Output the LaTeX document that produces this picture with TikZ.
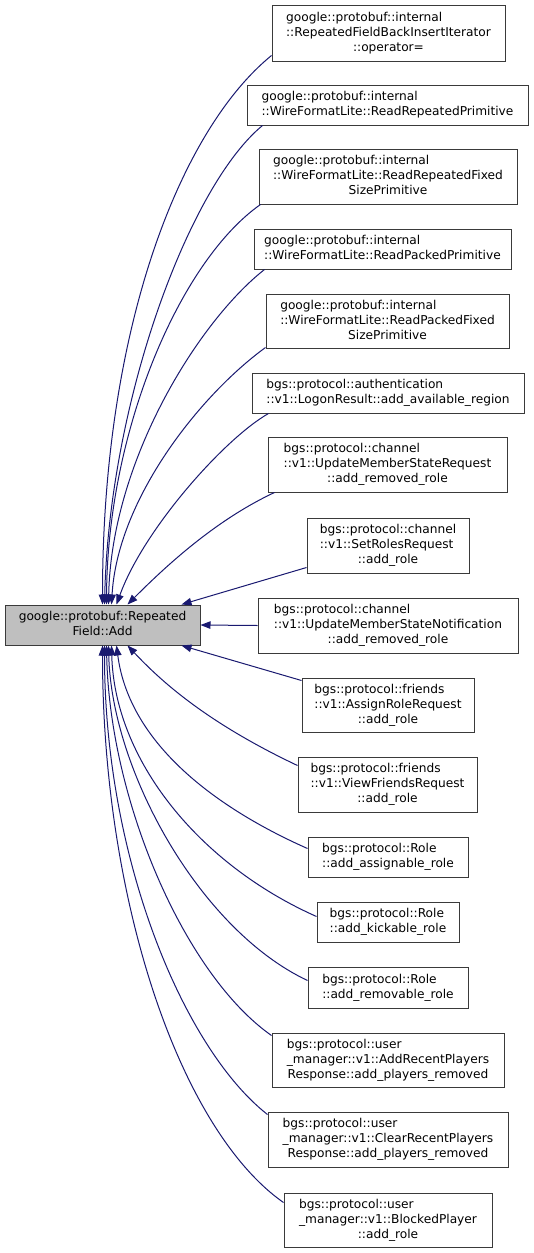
\documentclass[tikz,border=0pt]{standalone}
\usepackage{fontspec}
\setmainfont{DejaVu Sans}
\usetikzlibrary{arrows.meta}
\definecolor{edgeblue}{HTML}{191970}
\definecolor{boxline}{HTML}{3a3a3a}
\definecolor{mainfill}{HTML}{BFBFBF}
\newcommand\LblThree[3]{\begin{tabular}{@{}l@{}}#1\\#2\\\multicolumn{1}{@{}c@{}}{#3}\end{tabular}}
\newcommand\LblTwo[2]{\begin{tabular}{@{}l@{}}#1\\\multicolumn{1}{@{}c@{}}{#2}\end{tabular}}
\newcommand\Bx[6]{%
  \pgfmathsetmacro\bxw{#4-#2}%
  \pgfmathsetmacro\bxh{#5-#3}%
  \node[box,minimum width=\bxw pt,minimum height=\bxh pt] (#1) at ({(#2+#4)/2},{(#3+#5)/2}) {#6};}
\begin{document}
\begin{tikzpicture}[x=1pt,y=-1pt,
  box/.style={draw=boxline,line width=1pt,fill=white,inner sep=0pt,
    font=\fontsize{12.2}{15}\selectfont},
  link/.style={draw=edgeblue,line width=1pt,-{Triangle[length=10pt,width=7.5pt]}}]
\useasboundingbox[fill=white] (0,0) rectangle (533,1253);
\node[box,fill=mainfill,minimum width=195pt,minimum height=40pt] (m) at (102.5,625) {\LblTwo{google::protobuf::Repeated}{Field::Add}};
\Bx{n1}{272}{5}{505}{61}{\LblThree{google::protobuf::internal}{::RepeatedFieldBackInsertIterator}{::operator=}}
\Bx{n2}{247}{85}{528}{125}{\LblTwo{google::protobuf::internal}{::WireFormatLite::ReadRepeatedPrimitive}}
\Bx{n3}{259}{149}{517}{204}{\LblThree{google::protobuf::internal}{::WireFormatLite::ReadRepeatedFixed}{SizePrimitive}}
\Bx{n4}{254}{229}{511}{269}{\LblTwo{google::protobuf::internal}{::WireFormatLite::ReadPackedPrimitive}}
\Bx{n5}{266}{294}{509}{348}{\LblThree{google::protobuf::internal}{::WireFormatLite::ReadPackedFixed}{SizePrimitive}}
\Bx{n6}{252}{373}{524}{413}{\LblTwo{bgs::protocol::authentication}{::v1::LogonResult::add\_available\_region}}
\Bx{n7}{268}{437}{507}{492}{\LblThree{bgs::protocol::channel}{::v1::UpdateMemberStateRequest}{::add\_removed\_role}}
\Bx{n8}{307}{518}{469}{573}{\LblThree{bgs::protocol::channel}{::v1::SetRolesRequest}{::add\_role}}
\Bx{n9}{258}{598}{518}{653}{\LblThree{bgs::protocol::channel}{::v1::UpdateMemberStateNotification}{::add\_removed\_role}}
\Bx{n10}{302}{678}{474}{732}{\LblThree{bgs::protocol::friends}{::v1::AssignRoleRequest}{::add\_role}}
\Bx{n11}{298}{757}{477}{812}{\LblThree{bgs::protocol::friends}{::v1::ViewFriendsRequest}{::add\_role}}
\Bx{n12}{308}{837}{468}{877}{\LblTwo{bgs::protocol::Role}{::add\_assignable\_role}}
\Bx{n13}{317}{902}{459}{942}{\LblTwo{bgs::protocol::Role}{::add\_kickable\_role}}
\Bx{n14}{308}{967}{468}{1008}{\LblTwo{bgs::protocol::Role}{::add\_removable\_role}}
\Bx{n15}{272}{1033}{504}{1087}{\LblThree{bgs::protocol::user}{\_manager::v1::AddRecentPlayers}{Response::add\_players\_removed}}
\Bx{n16}{268}{1112}{508}{1167}{\LblThree{bgs::protocol::user}{\_manager::v1::ClearRecentPlayers}{Response::add\_players\_removed}}
\Bx{n17}{284}{1193}{492}{1247}{\LblThree{bgs::protocol::user}{\_manager::v1::BlockedPlayer}{::add\_role}}
% top fan
\draw[link] ([yshift=6pt]n1.south west) .. controls +(-92,75) and +(0,-275) .. ([xshift=98pt]m.north west);
\draw[link] ([xshift=16pt]n2.south west) .. controls +(-73,60) and +(5,-205) .. ([xshift=100pt]m.north west);
\draw[link] ([xshift=2pt]n3.south west) .. controls +(-80,56) and +(1,-175) .. ([xshift=102pt]m.north west);
\draw[link] ([xshift=11pt]n4.south west) .. controls +(-65,51) and +(3,-145) .. ([xshift=104pt]m.north west);
\draw[link] ([yshift=1pt]n5.south west) .. controls +(-66,48) and +(6,-105) .. ([xshift=107pt]m.north west);
\draw[link] ([xshift=17pt]n6.south west) .. controls +(-44,25) and +(27,-75) .. ([xshift=112pt]m.north west);
\draw[link] ([xshift=7pt]n7.south west) .. controls +(-60,28) and +(37,-37) .. ([xshift=123pt]m.north west);
\draw[link] ([yshift=6pt]n8.south west) -- ([xshift=177pt]m.north west);
\draw[link] (n9.west) -- (m.east);
% bottom fan
\draw[link] ([yshift=-3pt]n10.north west) -- ([xshift=177pt]m.south west);
\draw[link] ([yshift=-9pt]n11.north west) .. controls +(-93,-44) and +(32,34) .. ([xshift=123pt]m.south west);
\draw[link] ([yshift=-12pt]n12.north west) .. controls +(-88,-39) and +(13,100) .. ([xshift=112pt]m.south west);
\draw[link] ([yshift=-15pt]n13.north west) .. controls +(-117,-52) and +(3,115) .. ([xshift=107pt]m.south west);
\draw[link] ([yshift=-14pt]n14.north west) .. controls +(-108,-51) and +(3,125) .. ([xshift=104pt]m.south west);
\draw[link] ([yshift=-3pt]n15.north west) .. controls +(-87,-61) and +(3,155) .. ([xshift=102pt]m.south west);
\draw[link] ([yshift=-3pt]n16.north west) .. controls +(-83,-65) and +(0,215) .. ([xshift=100pt]m.south west);
\draw[link] ([yshift=-10pt]n17.north west) .. controls +(-104,-73) and +(0,255) .. ([xshift=98pt]m.south west);
\end{tikzpicture}
\end{document}
